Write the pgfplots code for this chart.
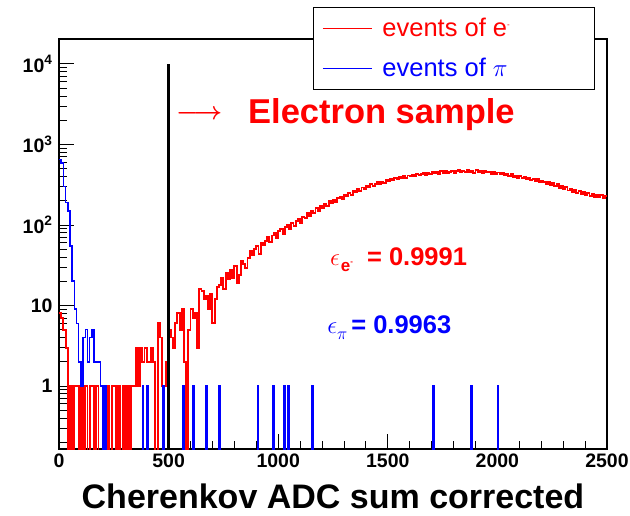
\documentclass[border=0pt]{standalone}
\usepackage{pgfplots}
\pgfplotsset{compat=1.18}
\usepackage{pgfplotstable}
\usepackage{fontspec}
\setmainfont{Liberation Sans}

% electron events, 10-count bins (left edge, content); empty bins = 0.01
\pgfplotstableread{
x y
0 8
10 7
20 5
30 3
40 0.01
50 1
60 0.01
70 1
80 1
90 0.01
100 1
110 0.01
120 1
130 0.01
140 1
150 1
160 0.01
170 1
180 0.01
190 0.01
200 1
210 0.01
220 1
230 0.01
240 1
250 1
260 0.01
270 1
280 0.01
290 1
300 0.01
310 1
320 0.01
330 1
340 1
350 3
360 1
370 3
380 2
390 3
400 2
410 2
420 3
430 2
440 0.01
450 6
460 4
470 1
480 1
490 2
500 5
510 4
520 3
530 6
540 8
550 5
560 9
570 2
580 0.01
590 5
600 9
610 7
620 8
630 3
640 16
650 15
660 12
670 13
680 9
690 14
700 6
710 12
720 17
730 18
740 22
750 16
760 25
770 21
780 28
790 22
800 31
810 19
820 24
830 36
840 33
850 29
860 39
870 47
880 42
890 50
900 55
910 44
920 60
930 57
940 64
950 70
960 62
970 74
980 79
990 69
1000 84
1010 90
1020 78
1030 95
1040 101
1050 90
1060 106
1070 98
1080 112
1090 120
1100 107
1110 127
1120 121
1130 140
1140 128
1150 150
1160 141
1170 162
1180 150
1190 171
1200 163
1210 184
1220 174
1230 196
1240 186
1250 207
1260 194
1270 217
1280 226
1290 209
1300 238
1310 226
1320 249
1330 238
1340 262
1350 253
1360 277
1370 266
1380 292
1390 279
1400 303
1410 294
1420 320
1430 307
1440 326
1450 342
1460 320
1470 347
1480 336
1490 361
1500 353
1510 376
1520 360
1530 380
1540 369
1550 392
1560 383
1570 406
1580 388
1590 412
1600 401
1610 423
1620 408
1630 432
1640 416
1650 427
1660 443
1670 418
1680 447
1690 431
1700 452
1710 436
1720 449
1730 427
1740 463
1750 442
1760 468
1770 446
1780 458
1790 473
1800 444
1810 463
1820 478
1830 453
1840 469
1850 450
1860 480
1870 458
1880 471
1890 447
1900 476
1910 455
1920 466
1930 446
1940 472
1950 450
1960 461
1970 435
1980 457
1990 429
2000 448
2010 424
2020 442
2030 413
2040 429
2050 406
2060 424
2070 394
2080 412
2090 387
2100 403
2110 380
2120 394
2130 369
2140 387
2150 360
2160 377
2170 350
2180 370
2190 339
2200 355
2210 346
2220 326
2230 342
2240 310
2250 330
2260 302
2270 320
2280 291
2290 306
2300 278
2310 297
2320 268
2330 284
2340 257
2350 273
2360 248
2370 263
2380 240
2390 258
2400 236
2410 249
2420 229
2430 244
2440 224
2450 239
2460 220
2470 233
2480 213
2490 228
2500 228
}\electrons

% pion events (left edge, content); runs of empty bins written once
\pgfplotstableread{
x y
0 650
10 590
20 300
30 190
40 150
50 55
60 20
70 9
80 6
90 2
100 1
110 4
120 5
130 2
140 4
150 5
160 2
170 2
180 2
190 1
200 0.01
210 1
215 0.01
380 1
385 0.01
400 1
405 0.01
475 1
480 0.01
565 1
570 0.01
610 1
615 0.01
670 1
675 0.01
730 1
735 0.01
905 1
910 0.01
975 1
980 0.01
1025 1
1030 0.01
1045 1
1050 0.01
1155 1
1160 0.01
1705 1
1710 0.01
1880 1
1885 0.01
2000 1
2005 0.01
2500 0.01
}\pions

\newcommand{\fs}[1]{\fontsize{#1}{#1}\selectfont}

\begin{document}
\begin{tikzpicture}
\useasboundingbox (-59pt,-66pt) rectangle (571pt,449pt);
\begin{axis}[
  at={(0,0)}, anchor=south west,
  scale only axis, width=548pt, height=410pt,
  xmin=0, xmax=2500, ymode=log, ymin=0.165, ymax=20400,
  axis line style={line width=1.2pt},
  tick pos=left, tick align=inside,
  major tick length=15pt, minor tick length=8pt,
  every tick/.style={black, line width=0.9pt},
  xtick={0,500,1000,1500,2000,2500},
  xticklabels={0,500,1000,1500,2000,2500},
  minor xtick={100,200,300,400,600,700,800,900,1100,1200,1300,1400,1600,1700,1800,1900,2100,2200,2300,2400},
  ytick={1,10,100,1000,10000},
  yticklabels={1,10,10\textsuperscript{2},10\textsuperscript{3},10\textsuperscript{4}},
  minor ytick={0.2,0.3,0.4,0.5,0.6,0.7,0.8,0.9,2,3,4,5,6,7,8,9,20,30,40,50,60,70,80,90,200,300,400,500,600,700,800,900,2000,3000,4000,5000,6000,7000,8000,9000,20000},
  tick label style={font=\fs{19.5}\bfseries},
  xticklabel style={yshift=-1pt},
  yticklabel style={xshift=-3pt},
  xlabel={Cherenkov ADC sum corrected},
  xlabel style={font=\fs{34}\bfseries, yshift=-10pt},
  legend style={at={(axis description cs:0.4635,1.078)}, anchor=north west,
    draw=black, line width=0.8pt, fill=white, font=\fs{25.5},
    inner xsep=9pt, inner ysep=9pt, row sep=16pt, column sep=8pt,
    cells={anchor=west}},
  legend image code/.code={\draw[#1, line width=1pt] (0pt,0pt) -- (49pt,0pt);},
]
\addplot[red, line width=1.9pt, const plot mark left] table {\electrons};
\addlegendentry{\makebox[201pt][l]{\textcolor{red}{events of e\raisebox{9pt}{\fs{8}-}}}}
\addplot[blue, line width=1.5pt, const plot mark left] table {\pions};
\addlegendentry{\makebox[201pt][l]{\textcolor{blue}{events of $\pi$}}}
\addplot[black, line width=2.6pt, forget plot] coordinates {(500,0.165) (500,10000)};

\node[anchor=base west, red, font=\fs{34.5}\bfseries, inner sep=0pt] at (axis cs:862,1800) {Electron sample};
\node[red, font=\fs{32}\boldmath, inner sep=0pt] at (axis cs:639,2330) {$\longrightarrow$};
\node[anchor=base west, red, inner sep=0pt] at (axis cs:1236,31.8)
  {\fs{26}$\epsilon$\hspace{1pt}\raisebox{-6pt}{\fs{17}\bfseries e\raisebox{7pt}{\fs{8}-}}\hspace{14pt}\fs{25.5}\bfseries = 0.9991};
\node[anchor=base west, blue, inner sep=0pt] at (axis cs:1223,4.55)
  {\fs{26}$\epsilon$\raisebox{-6pt}{\fs{18}$\pi$}\hspace{4pt}\fs{25.5}\bfseries = 0.9963};
\end{axis}
\end{tikzpicture}
\end{document}
